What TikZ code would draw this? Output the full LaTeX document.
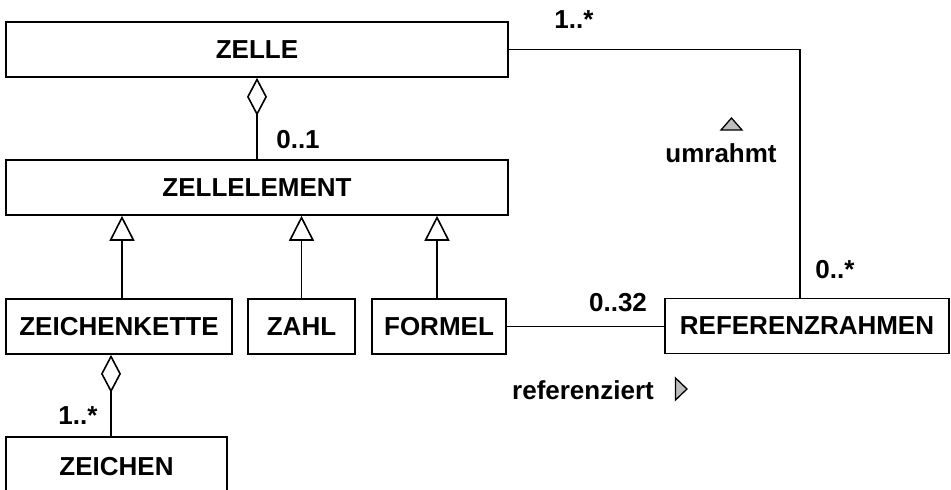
\documentclass[tikz,border=0pt]{standalone}
\usepackage{fontspec}
\setmainfont{Liberation Sans}
\usetikzlibrary{arrows.meta}
\definecolor{tipgray}{HTML}{BDBDBD}
\begin{document}
\begin{tikzpicture}[x=1pt,y=-1pt,
  every node/.style={font=\fontsize{26}{30}\selectfont\bfseries},
  cls/.style={draw,line width=1.6pt,minimum height=55pt,inner sep=0pt},
  conn/.style={line width=1.6pt},
  agg/.style={conn,{Diamond[open,length=38pt,width=20pt,line width=1.6pt]}-},
  gen/.style={conn,-{Triangle[open,length=25pt,width=25pt,line width=1.6pt]}},
  lbl/.style={inner sep=0pt}]
  \clip (0,0) rectangle (951,490);
  \fill[white] (0,0) rectangle (951,490);

  % classes
  \node[cls,minimum width=502pt] (zelle) at (257,49.5) {ZELLE};
  \node[cls,minimum width=502pt] (ze) at (257,187.5) {ZELLELEMENT};
  \node[cls,minimum width=226pt] (zk) at (119,326.5) {ZEICHENKETTE};
  \node[cls,minimum width=107pt] (zahl) at (301.5,326.5) {ZAHL};
  \node[cls,minimum width=134pt] (fo) at (439,326.5) {FORMEL};
  \node[cls,minimum width=284pt] (rf) at (807,326) {REFERENZRAHMEN};
  \node[cls,minimum width=221pt,minimum height=62pt,text depth=0pt] (zc) at (116.5,468) {\raisebox{4pt}{ZEICHEN}};

  % aggregations
  \draw[agg] (zelle.south) -- (ze.north);
  \draw[agg] (zk.south -| 111,0) -- (zc.north -| 111,0);

  % generalizations
  \draw[gen] ([xshift=3pt]zk.north) -- ([xshift=3pt]zk.north |- ze.south);
  \draw[gen] (zahl.north) -- (zahl.north |- ze.south);
  \draw[gen] ([xshift=-2pt]fo.north) -- ([xshift=-2pt]fo.north |- ze.south);

  % associations
  \draw[conn] (zelle.east) -| (rf.north -| 800,0);
  \draw[conn] (fo.east) -- (rf.west |- fo.east);

  % multiplicities
  \node[lbl] (m01) at (298,140) {0..1};
  \node[lbl] (m1a) at (574,20) {1..*};
  \node[lbl] (m0a) at (835,270) {0..*};
  \node[lbl] (m032) at (618,303) {0..32};
  \node[lbl] (m1b) at (78,416) {1..*};

  % association names with direction marks
  \node[lbl] (umr) at (721,153) {umrahmt};
  \draw[line width=1.3pt,fill=tipgray,line join=miter] (721,130) -- (731.5,118) -- (742,130) -- cycle;
  \node[lbl] (ref) at (583,390) {referenziert};
  \draw[line width=1.3pt,fill=tipgray,line join=miter] (675.5,378) -- (687,389) -- (675.5,400) -- cycle;
\end{tikzpicture}
\end{document}
